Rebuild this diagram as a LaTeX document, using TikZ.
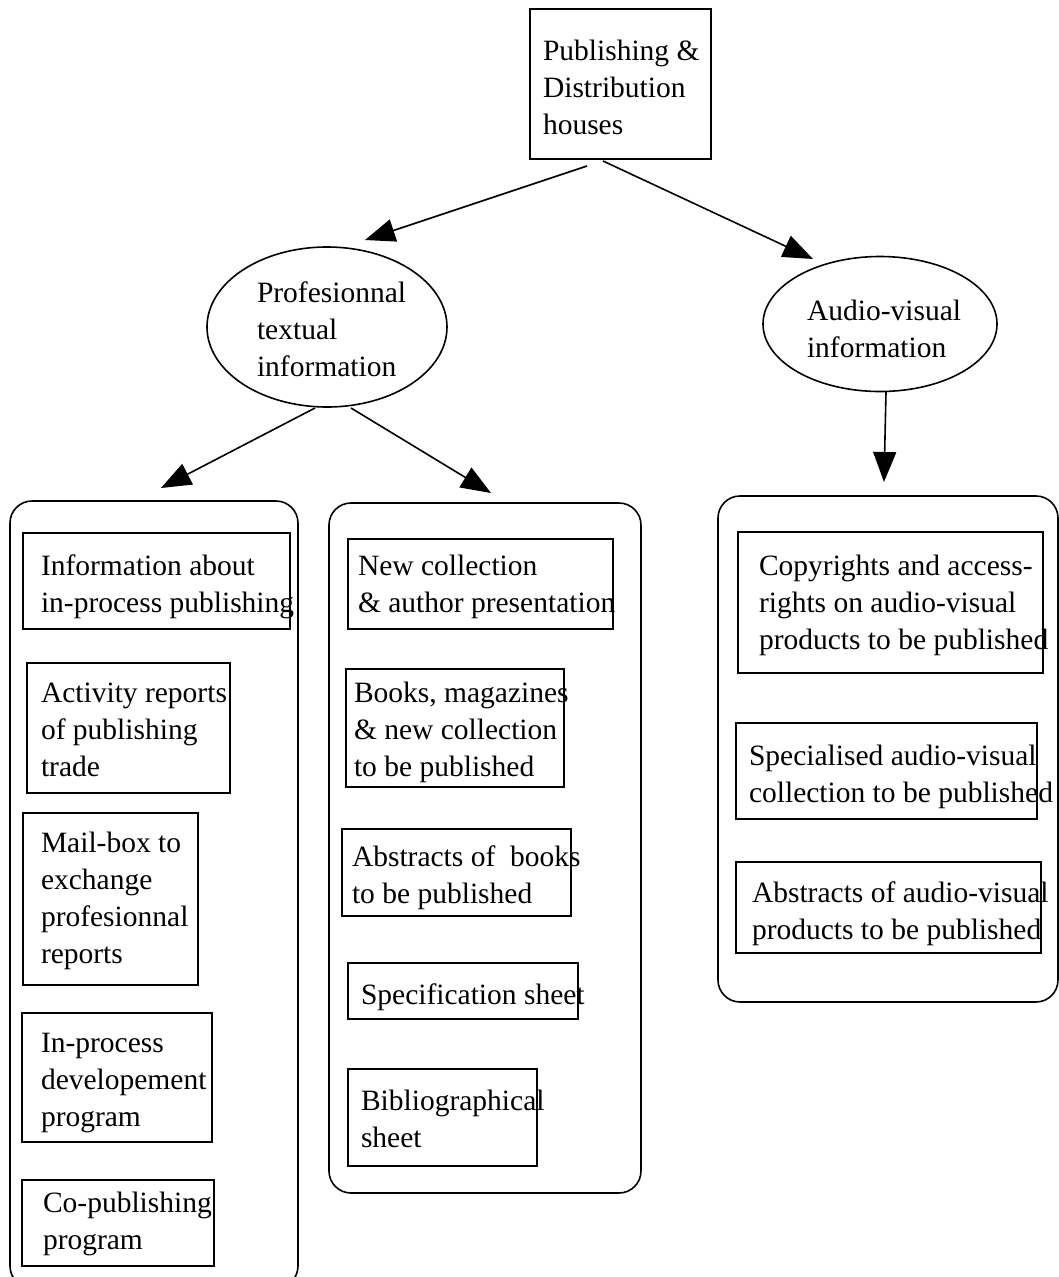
\documentclass[tikz,border=0pt]{standalone}
\usepackage{fontspec}
\setmainfont{Liberation Serif}
\usetikzlibrary{arrows.meta,shapes.geometric}
\newcommand\diagfont{\fontsize{29.5pt}{37pt}\selectfont}
\newcommand\topstrut{\rule{0pt}{24pt}}
\tikzset{
  every picture/.style={line width=1.6pt},
  box/.style={draw, rectangle, anchor=north west, inner sep=0pt, outer sep=0pt},
  group/.style={draw, rectangle, rounded corners=22pt, anchor=north west, inner sep=0pt, outer sep=0pt},
  oval/.style={draw, ellipse, inner sep=0pt, outer sep=0pt},
  txt/.style={anchor=north west, inner sep=0pt, outer sep=0pt, align=left, font=\diagfont},
  link/.style={-{Triangle[length=30pt,width=23pt]}, line width=1.6pt},
}
\begin{document}
\begin{tikzpicture}[x=1pt,y=-1pt]
\clip (0,0) rectangle (1059,1277);
\fill[white] (0,0) rectangle (1059,1277);

% root box
\node[box, minimum width=181pt, minimum height=150pt] (root) at (530,9) {};
\node[txt] (troot) at (543,36) {\topstrut Publishing \&\\Distribution\\houses};

% the two branches
\node[oval, minimum width=240pt, minimum height=160pt] (prof) at (327,327) {};
\node[txt] (tprof) at (257,278) {\topstrut Profesionnal\\textual\\information};
\node[oval, minimum width=234pt, minimum height=135pt] (av) at (880,324) {};
\node[txt] (tav) at (807,296) {\topstrut Audio-visual\\information};

% group frames
\node[group, minimum width=288pt, minimum height=787pt] (gl) at (10,501) {};
\node[group, minimum width=312pt, minimum height=690pt] (gm) at (329,503) {};
\node[group, minimum width=340pt, minimum height=506pt] (gr) at (718,496) {};

% left group items
\node[box, minimum width=267pt, minimum height=96pt] (l1) at (23,533) {};
\node[txt] (tl1) at (41,551) {\topstrut Information about\\in-process publishing};
\node[box, minimum width=203pt, minimum height=130pt] (l2) at (27,663) {};
\node[txt] (tl2) at (41,678) {\topstrut Activity reports\\of publishing\\trade};
\node[box, minimum width=175pt, minimum height=172pt] (l3) at (23,813) {};
\node[txt] (tl3) at (41,828) {\topstrut Mail-box to\\exchange\\profesionnal\\reports};
\node[box, minimum width=190pt, minimum height=129pt] (l4) at (22,1013) {};
\node[txt] (tl4) at (41,1028) {\topstrut In-process\\developement\\program};
\node[box, minimum width=192pt, minimum height=86pt] (l5) at (22,1180) {};
\node[txt] (tl5) at (43,1188) {\topstrut Co-publishing\\program};

% middle group items
\node[box, minimum width=265pt, minimum height=90pt] (m1) at (348,539) {};
\node[txt] (tm1) at (358,551) {\topstrut New collection\\\& author presentation};
\node[box, minimum width=218pt, minimum height=118pt] (m2) at (346,669) {};
\node[txt] (tm2) at (354,678) {\topstrut Books, magazines\\\& new collection\\to be published};
\node[box, minimum width=229pt, minimum height=87pt] (m3) at (342,829) {};
\node[txt] (tm3) at (352,842) {\topstrut Abstracts of\ \ books\\to be published};
\node[box, minimum width=230pt, minimum height=56pt] (m4) at (348,963) {};
\node[txt] (tm4) at (361,980) {\topstrut Specification sheet};
\node[box, minimum width=189pt, minimum height=97pt] (m5) at (348,1069) {};
\node[txt] (tm5) at (361,1086) {\topstrut Bibliographical\\sheet};

% right group items
\node[box, minimum width=305pt, minimum height=141pt] (r1) at (738,532) {};
\node[txt] (tr1) at (759,551) {\topstrut Copyrights and access-\\rights on audio-visual\\products to be published};
\node[box, minimum width=301pt, minimum height=96pt] (r2) at (736,723) {};
\node[txt] (tr2) at (749,741) {\topstrut Specialised audio-visual\\collection to be published};
\node[box, minimum width=305pt, minimum height=91pt] (r3) at (736,862) {};
\node[txt] (tr3) at (752,878) {\topstrut Abstracts of audio-visual\\products to be published};

% connectors
\draw[link] ([shift={(-33.5,7)}]root.south) -- ([shift={(38,-87)}]prof.center);
\draw[link] ([shift={(-17.5,2)}]root.south) -- ([shift={(-67,-65)}]av.center);
\draw[link] ([shift={(6,68)}]av.center) -- ([shift={(-4,-14)}]gr.north);
\draw[link] ([shift={(-12,81)}]prof.center) -- ([shift={(7,-13)}]gl.north);
\draw[link] ([shift={(24,81)}]prof.center) -- ([shift={(6,-10)}]gm.north);
\end{tikzpicture}
\end{document}
